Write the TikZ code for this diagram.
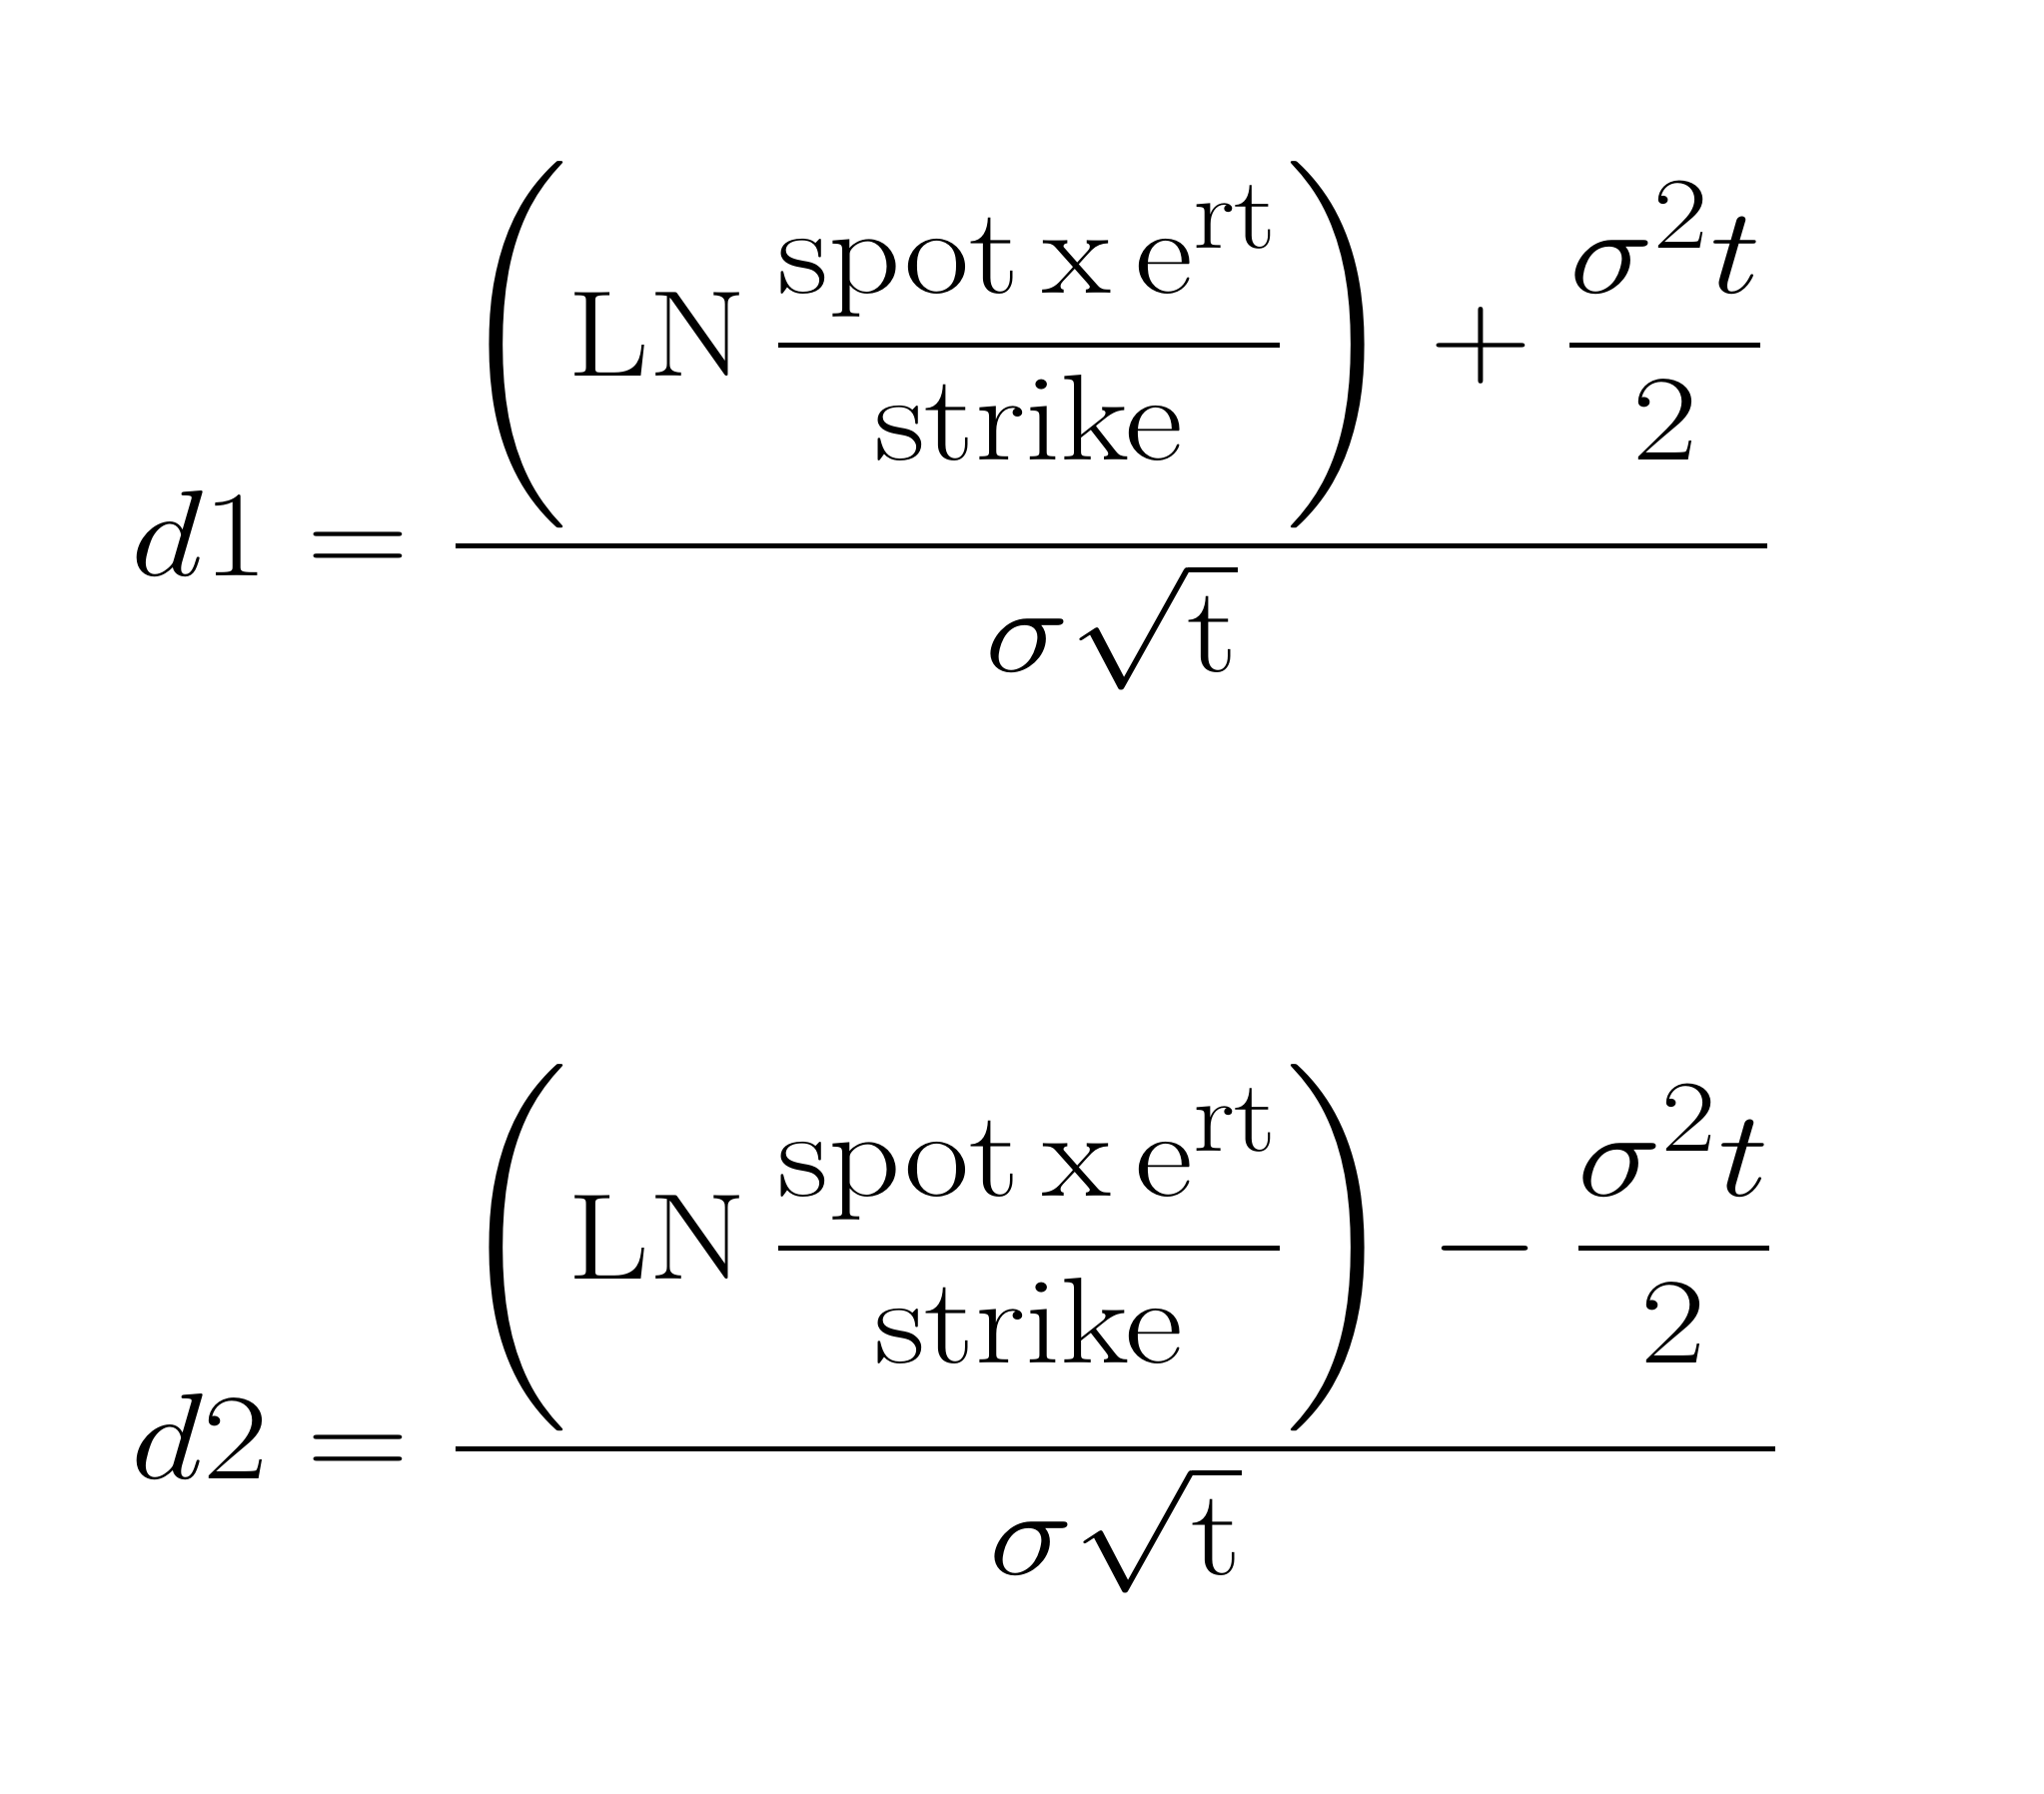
\documentclass[tikz,border=0pt]{standalone}
\usepackage{amsmath}
\usepackage{graphicx}
\begin{document}
\begin{tikzpicture}
\useasboundingbox[fill=white] (0,0) rectangle (20.46,17.96);
\tikzset{eq/.style={anchor=base west,inner sep=0pt,font=\fontsize{30}{36}\selectfont}}
\node[eq] (d1) at (1.31,12.19) {\scalebox{1.62}[1.4]{$\displaystyle d1 = \frac{\Biggl(\mathrm{LN}\,\dfrac{\mathrm{spot\,x\,e^{rt}}}{\mathrm{strike}}\Biggr)+\dfrac{\sigma^2 t}{2}}{\sigma\sqrt{\mathrm{t}}}$}};
\node[eq] (d2) at (1.31,3.15) {\scalebox{1.62}[1.4]{$\displaystyle d2 = \frac{\Biggl(\mathrm{LN}\,\dfrac{\mathrm{spot\,x\,e^{rt}}}{\mathrm{strike}}\Biggr)-\dfrac{\sigma^2 t}{2}}{\sigma\sqrt{\mathrm{t}}}$}};
\end{tikzpicture}
\end{document}
